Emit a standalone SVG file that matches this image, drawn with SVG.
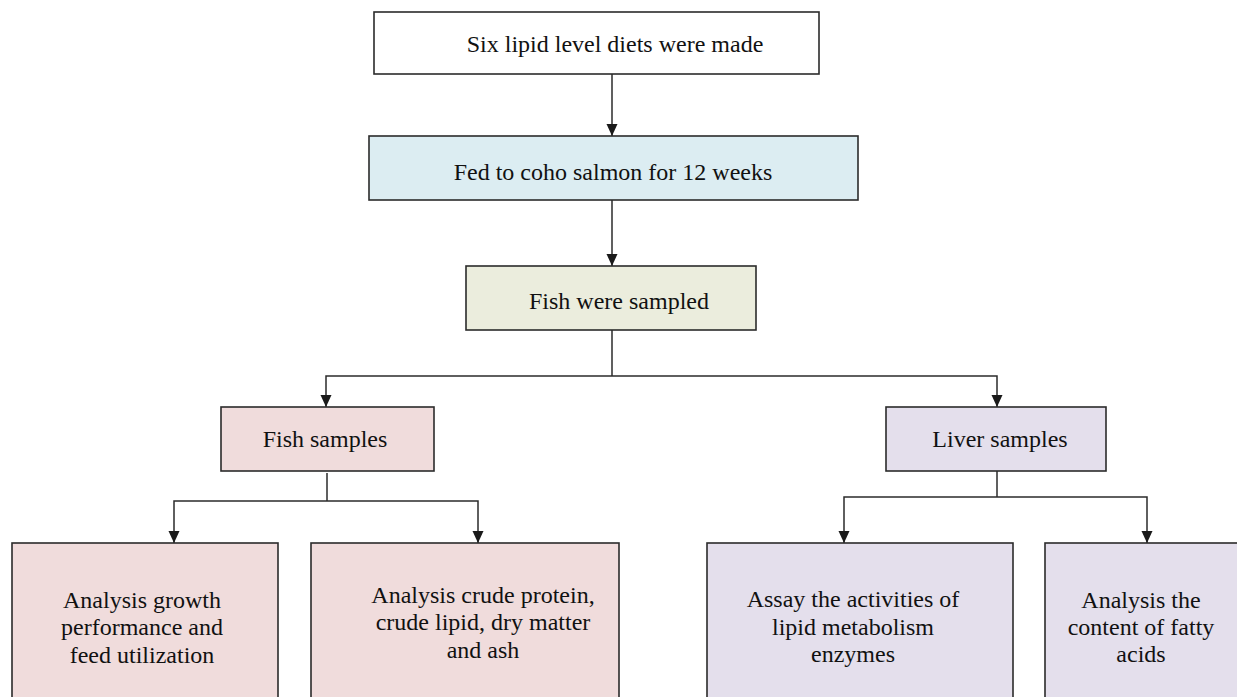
<svg xmlns="http://www.w3.org/2000/svg" width="1237" height="697" viewBox="0 0 1237 697">
<defs>
<marker id="arr" markerUnits="userSpaceOnUse" markerWidth="12" markerHeight="12" viewBox="0 0 12 12" refX="12" refY="6" orient="auto">
<path d="M0,0.5 L12,6 L0,11.5 Z" fill="#1a1a1a"/>
</marker>
</defs>
<style>
.box{stroke:#2b2b2b;stroke-width:1.6}
.t{font-family:"Liberation Serif","Times New Roman",serif;font-size:24px;fill:#111;text-anchor:middle}
.c{fill:none;stroke:#2b2b2b;stroke-width:1.5}
.a{marker-end:url(#arr)}
</style>
<rect width="1237" height="697" fill="#fff"/>
<g id="connectors">
<line class="c a" x1="612" y1="74" x2="612" y2="136"/>
<line class="c a" x1="612" y1="200" x2="612" y2="266"/>
<polyline class="c" points="612,330 612,376"/>
<polyline class="c a" points="612,376 326,376 326,407"/>
<polyline class="c a" points="612,376 997,376 997,407"/>
<polyline class="c" points="327,473 327,501"/>
<polyline class="c a" points="327,501 174,501 174,543"/>
<polyline class="c a" points="327,501 478,501 478,543"/>
<polyline class="c" points="997,471 997,497"/>
<polyline class="c a" points="997,497 844,497 844,543"/>
<polyline class="c a" points="997,497 1147,497 1147,543"/>
</g>
<g id="n1"><rect class="box" x="374" y="12" width="445" height="62" fill="#ffffff"/><text class="t" x="615" y="52">Six lipid level diets were made</text></g>
<g id="n2"><rect class="box" x="369" y="136" width="489" height="64" fill="#dcedf2"/><text class="t" x="613" y="180">Fed to coho salmon for 12 weeks</text></g>
<g id="n3"><rect class="box" x="466" y="266" width="290" height="64" fill="#ebeddd"/><text class="t" x="619" y="309">Fish were sampled</text></g>
<g id="n4"><rect class="box" x="221" y="407" width="213" height="64" fill="#f0dcdc"/><text class="t" x="325" y="447">Fish samples</text></g>
<g id="n5"><rect class="box" x="886" y="407" width="220" height="64" fill="#e4dfec"/><text class="t" x="1000" y="447">Liver samples</text></g>
<g id="n6"><rect class="box" x="12" y="543" width="266" height="170" fill="#f0dcdc"/><text class="t" x="142"><tspan x="142" y="608">Analysis growth</tspan><tspan x="142" y="635">performance and</tspan><tspan x="142" y="663">feed utilization</tspan></text></g>
<g id="n7"><rect class="box" x="311" y="543" width="308" height="170" fill="#f0dcdc"/><text class="t" x="483"><tspan x="483" y="603">Analysis crude protein,</tspan><tspan x="483" y="630">crude lipid, dry matter</tspan><tspan x="483" y="658">and ash</tspan></text></g>
<g id="n8"><rect class="box" x="707" y="543" width="306" height="170" fill="#e4dfec"/><text class="t" x="853"><tspan x="853" y="607">Assay the activities of</tspan><tspan x="853" y="635">lipid metabolism</tspan><tspan x="853" y="662">enzymes</tspan></text></g>
<g id="n9"><rect class="box" x="1045" y="543" width="210" height="170" fill="#e4dfec"/><text class="t" x="1141"><tspan x="1141" y="608">Analysis the</tspan><tspan x="1141" y="635">content of fatty</tspan><tspan x="1141" y="662">acids</tspan></text></g>
</svg>
